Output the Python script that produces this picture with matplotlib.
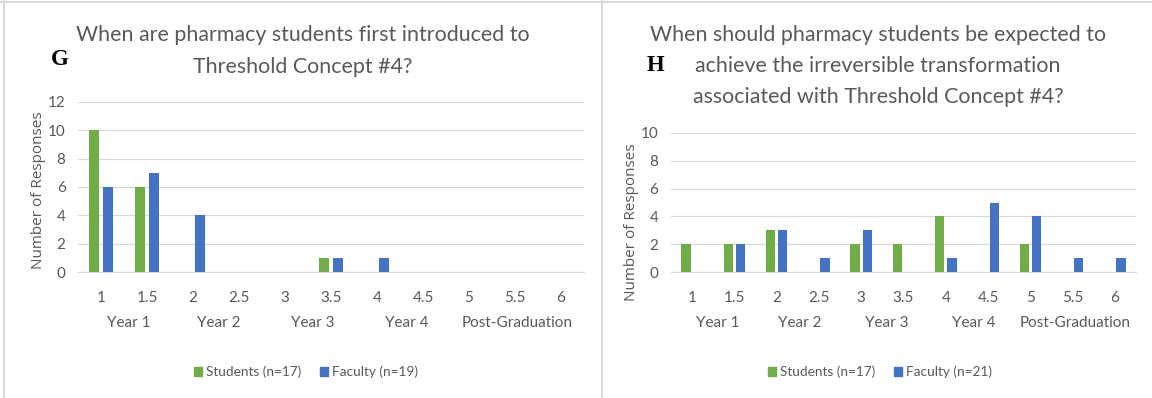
"""Bar charts of survey responses for Threshold Concept #4."""

import matplotlib.pyplot as plt
import numpy as np
from matplotlib.lines import Line2D
from matplotlib.patches import Patch
from matplotlib.transforms import blended_transform_factory

# Response scale (years in the programme)
categories = ['1', '1.5', '2', '2.5', '3', '3.5', '4', '4.5', '5', '5.5', '6']
year_labels = ['Year 1', 'Year 2', 'Year 3', 'Year 4', 'Post-Graduation']
year_pos = [0.6, 2.55, 4.6, 6.65, 9.05]

# Panel G: first introduced
g_students = [10, 6, 0, 0, 0, 1, 0, 0, 0, 0, 0]
g_faculty = [6, 7, 4, 0, 0, 1, 1, 0, 0, 0, 0]
g_legend = ['Students (n=17)', 'Faculty (n=19)']
g_title = ['When are pharmacy students first introduced to',
           'Threshold Concept #4?']

# Panel H: irreversible transformation
h_students = [2, 2, 3, 0, 2, 2, 4, 0, 2, 0, 0]
h_faculty = [0, 2, 3, 1, 3, 0, 1, 5, 4, 1, 1]
h_legend = ['Students (n=17)', 'Faculty (n=21)']
h_title = ['When should pharmacy students be expected to',
           'achieve the irreversible transformation',
           'associated with Threshold Concept #4?']

GREEN = '#70AD47'
BLUE = '#4472C4'
GRID = '#D9D9D9'
TEXT = '#595959'
FONT = 'Lato'
W, H = 1152, 398


def px(x, y):
    """Pixel position to figure fraction."""
    return x / W, 1 - y / H


def draw_panel(fig, box, students, faculty, ymax, label_y, legend, legend_x):
    x0, y0, x1, y1 = box
    ax = fig.add_axes([x0 / W, 1 - y1 / H, (x1 - x0) / W, (y1 - y0) / H])
    x = np.arange(len(categories))
    ax.bar(x - 0.145, students, width=0.22, color=GREEN, zorder=3)
    ax.bar(x + 0.145, faculty, width=0.22, color=BLUE, zorder=3)
    ax.set_xlim(-0.5, len(categories) - 0.5)
    ax.set_ylim(0, ymax)
    ax.set_yticks(range(0, ymax + 1, 2))
    ax.set_xticks(x)
    ax.set_xticklabels(categories)
    ax.yaxis.grid(True, color=GRID, lw=0.9, zorder=0)
    for side in ['top', 'right', 'left']:
        ax.spines[side].set_visible(False)
    ax.spines['bottom'].set_color(GRID)
    ax.tick_params(length=0, colors=TEXT, labelsize=11)
    ax.tick_params(axis='x', pad=14)
    ax.tick_params(axis='y', pad=9)
    for lab in ax.get_xticklabels() + ax.get_yticklabels():
        lab.set_family(FONT)
    ax.set_ylabel('Number of Responses', color=TEXT, fontsize=11,
                  family='Open Sans', labelpad=1, y=label_y)

    trans = blended_transform_factory(ax.transData, fig.transFigure)
    for pos, lab in zip(year_pos, year_labels):
        ax.text(pos, px(0, 323)[1], lab, transform=trans, ha='center',
                va='center', color=TEXT, fontsize=11, family=FONT)

    handles = [Patch(color=GREEN), Patch(color=BLUE)]
    fig.legend(handles, legend, loc='center', ncol=2,
               bbox_to_anchor=px(legend_x, 372), frameon=False,
               handlelength=0.6, handleheight=0.6, handletextpad=0.3,
               columnspacing=1.4, prop={'family': FONT, 'size': 9.8},
               labelcolor=TEXT)
    return ax


def draw_title(fig, lines, cx, baselines):
    for line, y in zip(lines, baselines):
        fig.text(*px(cx, y), line, ha='center', va='baseline', color=TEXT,
                 fontsize=15.4, family=FONT)


fig = plt.figure(figsize=(W / 100, H / 100), dpi=100)

draw_panel(fig, (78, 102, 584, 272), g_students, g_faculty, 12, 0.48,
           g_legend, 306)
draw_panel(fig, (671, 133, 1136, 272), h_students, h_faculty, 10, 0.36,
           h_legend, 880)

draw_title(fig, g_title, 303, [41, 73])
draw_title(fig, h_title, 878, [41, 72, 103])

fig.text(*px(60, 65), 'G', ha='center', va='baseline', fontsize=16.5,
         fontweight='bold', family='Liberation Serif')
fig.text(*px(656, 71), 'H', ha='center', va='baseline', fontsize=16.5,
         fontweight='bold', family='Liberation Serif')

# Frame lines around the two panels
for xs, ys in [([0, W], [1.5, 1.5]), ([3.5, 3.5], [0, H]),
               ([601.5, 601.5], [0, H])]:
    fig.add_artist(Line2D([x / W for x in xs], [1 - y / H for y in ys],
                          color=GRID, lw=1.5, transform=fig.transFigure))

fig.savefig('out.png', dpi=100)
